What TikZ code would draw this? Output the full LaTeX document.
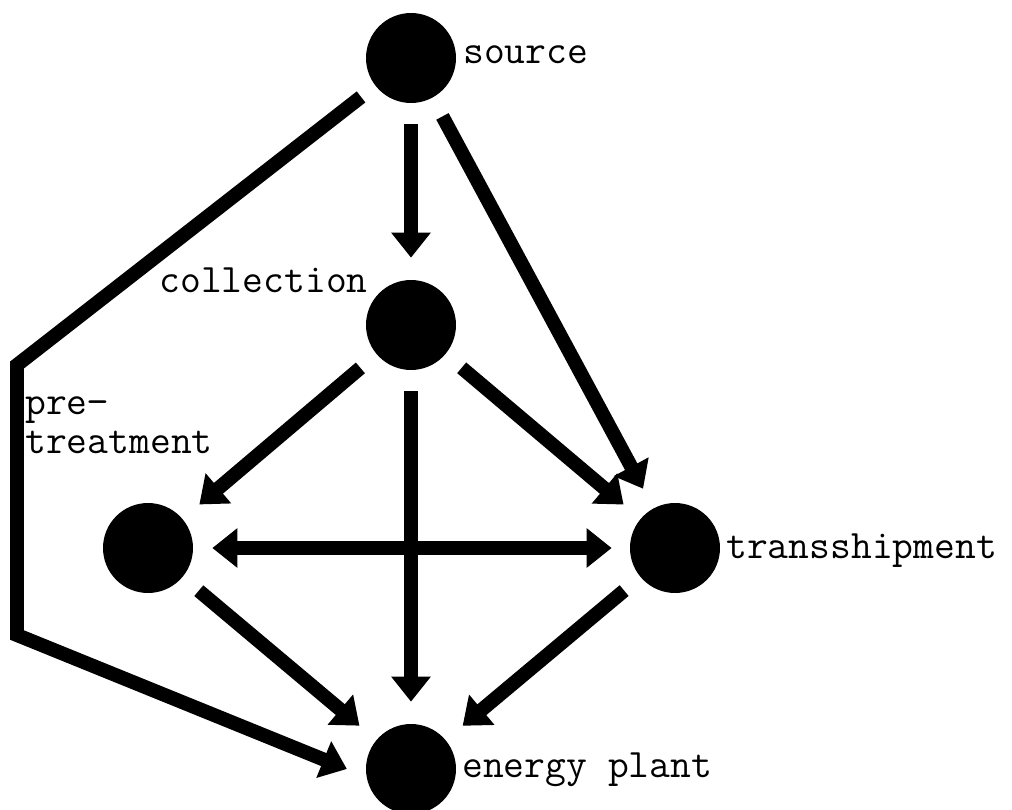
\documentclass[tikz,border=0pt]{standalone}
\usepackage{tikz}
\usetikzlibrary{arrows.meta}

\begin{document}
\begin{tikzpicture}[x=0.02cm,y=-0.02cm]
\tikzstyle{every node}+=[inner sep=0pt]
\tikzstyle{site}=[circle,fill=black,minimum size=1.8cm]
\tikzstyle{lbl}=[font=\fontsize{23}{22}\selectfont\ttfamily]
\tikzstyle{flow}=[line width=0.28cm,-{Triangle[length=0.5cm,width=0.76cm]},shorten <=0.42cm,shorten >=0.44cm]
\tikzstyle{flowboth}=[flow,{Triangle[length=0.5cm,width=0.76cm]}-{Triangle[length=0.5cm,width=0.76cm]},shorten <=0.38cm,shorten >=0.36cm]
\useasboundingbox (0,0) rectangle (1012,809);
% sites
\node [site] (source) at (411,58) {};
\node [site] (collection) at (411,325) {};
\node [site] (pretreatment) at (148,548) {};
\node [site] (transshipment) at (675,548) {};
\node [site] (plant) at (411,769) {};
% labels
\node [lbl,anchor=base west] (sourcelabel) at (463,63) {source};
\node [lbl,anchor=base east] (collectionlabel) at (368,292) {collection};
\node [lbl,anchor=west,align=left] (pretreatmentlabel) at (25,425) {pre−\\treatment};
\node [lbl,anchor=base west] (transshipmentlabel) at (726,558) {transshipment};
\node [lbl,anchor=base west] (plantlabel) at (462,777) {energy plant};
% bypass on the left
\coordinate (bendtop) at (17,365);
\coordinate (bendbottom) at (17,635);
% flows
\draw [flow] (source) -- (collection);
\draw [flow] (source) -- (transshipment);
\draw [flow,shorten <=0.36cm,shorten >=0.42cm] (source) -- (bendtop) -- (bendbottom) -- (plant.190);
\draw [flow] (collection) -- (pretreatment);
\draw [flow] (collection) -- (transshipment);
\draw [flow] (collection) -- (plant);
\draw [flowboth] (pretreatment) -- (transshipment);
\draw [flow] (pretreatment) -- (plant);
\draw [flow] (transshipment) -- (plant);
\end{tikzpicture}
\end{document}
